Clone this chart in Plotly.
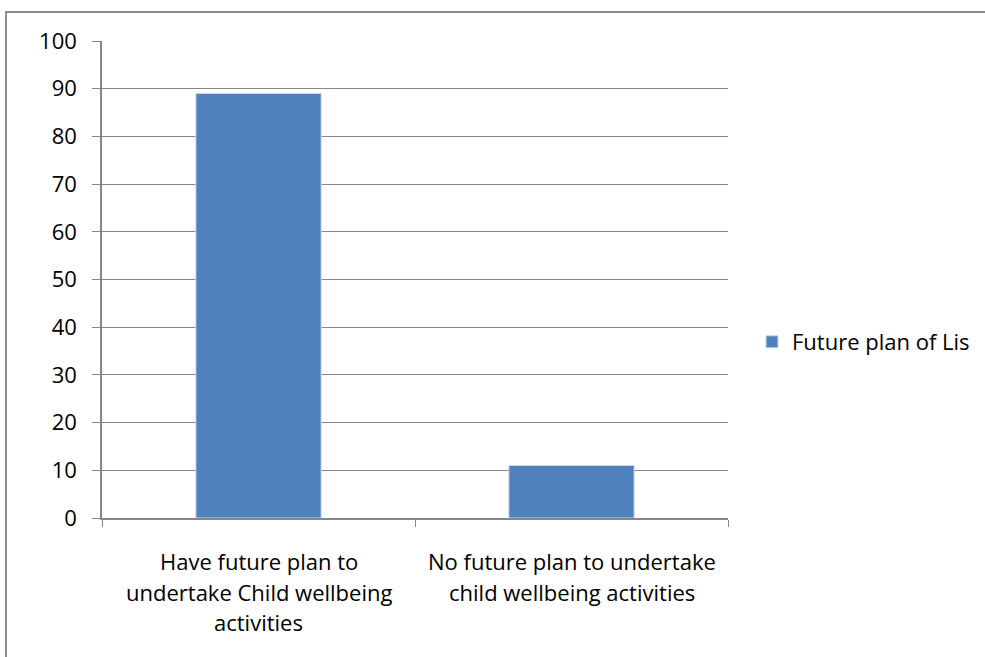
import plotly.graph_objects as go

categories = [
    "Have future plan to undertake Child wellbeing activities",
    "No future plan to undertake child wellbeing activities",
]
label_lines = [
    ["Have future plan to", "undertake Child wellbeing", "activities"],
    ["No future plan to undertake", "child wellbeing activities"],
]
values = [89, 11]
series_name = "Future plan of Lis"
y_ticks = list(range(0, 101, 10))

W, H = 985, 657
L, R, T, B = 102, 728, 41, 518
ph = B - T
pw = R - L
FONT = "Open Sans"
FS = 22
GRID = "#878787"

fig = go.Figure()
fig.add_trace(go.Bar(
    x=categories, y=values, name=series_name,
    marker=dict(color="#4F81BD", line=dict(color="#C9D6EA", width=1)),
    width=0.4, showlegend=True,
))

annotations = []
line_centers = [561, 592, 622]
for cat, lines in zip(categories, label_lines):
    for j, txt in enumerate(lines):
        annotations.append(dict(
            x=cat, xref="x", y=-(line_centers[j] - B) / ph, yref="paper",
            text=txt, showarrow=False, xanchor="center", yanchor="middle",
            font=dict(family=FONT, size=FS, color="#000000"),
        ))

fig.update_layout(
    width=W, height=H,
    margin=dict(l=L, r=W - R, t=T, b=H - B, pad=0, autoexpand=False),
    paper_bgcolor="white", plot_bgcolor="white",
    font=dict(family=FONT, size=FS, color="#000000"),
    showlegend=True,
    legend=dict(x=(752 - L) / pw, y=(B - 342) / ph, xanchor="left", yanchor="middle",
                font=dict(family=FONT, size=FS), itemwidth=30, tracegroupgap=0),
    annotations=annotations,
    shapes=[dict(type="rect", xref="paper", yref="paper",
                 x0=(6 - L) / pw, x1=(W + 20 - L) / pw,
                 y0=(B - (H + 20)) / ph, y1=(B - 12) / ph,
                 line=dict(color="#8C8C8C", width=2), fillcolor="rgba(0,0,0,0)",
                 layer="below")],
)
fig.update_xaxes(
    type="category", range=[-0.5, 1.5], showticklabels=False,
    tickson="boundaries", ticks="outside", ticklen=7, tickcolor=GRID, tickwidth=1,
    showline=True, linecolor=GRID, linewidth=1.5, showgrid=False, zeroline=False,
)
fig.update_yaxes(
    range=[0, 100], tickvals=y_ticks, ticks="outside", ticklen=8, tickcolor=GRID,
    showline=True, linecolor=GRID, linewidth=1.5,
    showgrid=True, gridcolor=GRID, gridwidth=1, zeroline=False,
    ticklabelstandoff=11, tickfont=dict(family=FONT, size=FS),
)
fig.write_html("out.html")
